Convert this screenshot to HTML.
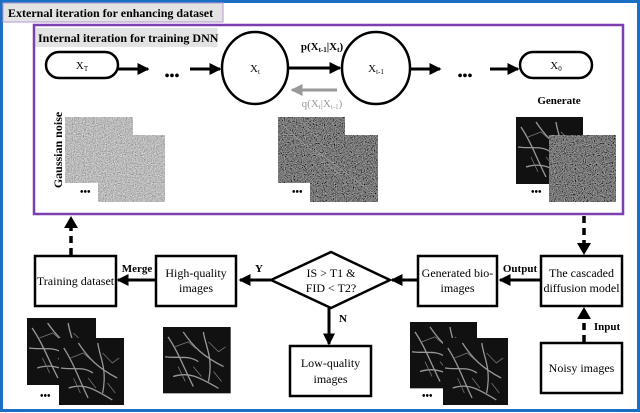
<!DOCTYPE html>
<html><head><style>
html,body{margin:0;padding:0;background:#fff}
svg{display:block}
text{font-family:"Liberation Serif",serif;fill:#000}
</style></head><body>
<svg width="640" height="413" viewBox="0 0 640 413" xmlns="http://www.w3.org/2000/svg">
<defs>
<filter id="nz" x="0" y="0" width="100%" height="100%"><feTurbulence type="fractalNoise" baseFrequency="0.9" numOctaves="1" seed="3"/><feColorMatrix type="matrix" values="0.33 0.33 0.33 0 0  0.33 0.33 0.33 0 0  0.33 0.33 0.33 0 0  0 0 0 0 1"/><feComponentTransfer><feFuncR type="linear" slope="1.6" intercept="-0.3"/><feFuncG type="linear" slope="1.6" intercept="-0.3"/><feFuncB type="linear" slope="1.6" intercept="-0.3"/></feComponentTransfer></filter>
<filter id="nz2" x="0" y="0" width="100%" height="100%"><feTurbulence type="fractalNoise" baseFrequency="0.9" numOctaves="1" seed="7"/><feColorMatrix type="matrix" values="0.33 0.33 0.33 0 0  0.33 0.33 0.33 0 0  0.33 0.33 0.33 0 0  0 0 0 0 1"/><feComponentTransfer><feFuncR type="linear" slope="1.5" intercept="-0.55"/><feFuncG type="linear" slope="1.5" intercept="-0.55"/><feFuncB type="linear" slope="1.5" intercept="-0.55"/></feComponentTransfer></filter>
<marker id="ah" markerWidth="4" markerHeight="4" refX="3.5" refY="2" orient="auto" markerUnits="strokeWidth"><path d="M0,0 L4,2 L0,4 z" fill="#000"/></marker>
<marker id="ahg" markerWidth="4" markerHeight="4" refX="3.5" refY="2" orient="auto" markerUnits="strokeWidth"><path d="M0,0 L4,2 L0,4 z" fill="#999"/></marker>
<g id="ves">
<rect width="67" height="67" fill="#111"/>
<g stroke="#bbb" stroke-width="1.3" fill="none" opacity="0.8">
<path d="M5,10 C15,25 20,40 30,60 M20,5 C30,20 40,30 60,40 M10,50 C25,45 35,50 55,62 M40,5 C42,20 50,30 45,55 M2,30 C15,32 25,28 35,35"/>
</g>
<g stroke="#777" stroke-width="0.8" fill="none">
<path d="M12,20 L25,15 L33,22 M45,15 L55,25 L62,20 M15,40 L22,55 M50,45 L58,55 M30,40 L38,50"/>
</g>
</g>
</defs>
<rect x="0" y="0" width="640" height="413" fill="#fff"/>
<rect x="1.5" y="1.5" width="637" height="409" fill="none" stroke="#1a6fc4" stroke-width="3"/>
<rect x="3" y="3" width="220" height="19" fill="#e3e3e3" stroke="#b49ad0" stroke-width="1"/>
<text x="8" y="17" font-size="12" font-weight="bold">External iteration for enhancing dataset</text>
<rect x="34" y="25" width="589" height="189" fill="none" stroke="#7b3fb0" stroke-width="2.5"/>
<rect x="35.5" y="28" width="182" height="19" fill="#e3e3e3"/>
<text x="38" y="42" font-size="12" font-weight="bold">Internal iteration for training DNN</text>

<rect x="46" y="52" width="72" height="26" rx="13" fill="#fff" stroke="#000" stroke-width="2.5"/>
<text x="82" y="69" font-size="11" text-anchor="middle">X<tspan font-size="7" dy="2">T</tspan></text>
<line x1="118" y1="69" x2="148" y2="69" stroke="#000" stroke-width="3" marker-end="url(#ah)"/>
<text x="172" y="80" font-size="14" font-weight="bold" text-anchor="middle">•••</text>
<line x1="190" y1="69" x2="220" y2="69" stroke="#000" stroke-width="3" marker-end="url(#ah)"/>
<ellipse cx="255" cy="68" rx="33" ry="36" fill="#fff" stroke="#000" stroke-width="2.5"/>
<text x="255" y="72" font-size="11" text-anchor="middle">X<tspan font-size="7" dy="2">t</tspan></text>
<line x1="289" y1="68" x2="340" y2="68" stroke="#000" stroke-width="3" marker-end="url(#ah)"/>
<text x="322" y="50" font-size="11" font-weight="bold" text-anchor="middle">p(X<tspan font-size="7" dy="2">t-1</tspan><tspan dy="-2">|X</tspan><tspan font-size="7" dy="2">t</tspan><tspan dy="-2">)</tspan></text>
<line x1="337" y1="90" x2="292" y2="90" stroke="#999" stroke-width="3" marker-end="url(#ahg)"/>
<text x="322" y="107" font-size="11" text-anchor="middle" style="fill:#999">q(X<tspan font-size="7" dy="2">t</tspan><tspan dy="-2">|X</tspan><tspan font-size="7" dy="2">t-1</tspan><tspan dy="-2">)</tspan></text>
<ellipse cx="376" cy="68" rx="34" ry="36" fill="#fff" stroke="#000" stroke-width="2.5"/>
<text x="376" y="72" font-size="11" text-anchor="middle">X<tspan font-size="7" dy="2">t-1</tspan></text>
<line x1="410" y1="69" x2="440" y2="69" stroke="#000" stroke-width="3" marker-end="url(#ah)"/>
<text x="465" y="80" font-size="14" font-weight="bold" text-anchor="middle">•••</text>
<line x1="490" y1="69" x2="518" y2="69" stroke="#000" stroke-width="3" marker-end="url(#ah)"/>
<rect x="520" y="52" width="72" height="26" rx="13" fill="#fff" stroke="#000" stroke-width="2.5"/>
<text x="556" y="69" font-size="11" text-anchor="middle">X<tspan font-size="7" dy="2">0</tspan></text>
<text x="559" y="104" font-size="11" font-weight="bold" text-anchor="middle">Generate</text>

<text transform="translate(62,150) rotate(-90)" font-size="12" font-weight="bold" text-anchor="middle">Gaussian noise</text>
<rect x="65" y="117" width="68" height="66" filter="url(#nz)"/>
<rect x="98" y="135" width="67" height="67" filter="url(#nz)"/>
<rect x="76" y="184" width="22" height="18" fill="#fff"/>
<text x="80" y="195" font-size="10" font-weight="bold">•••</text>
<rect x="278" y="117" width="67" height="66" filter="url(#nz2)"/>
<rect x="310" y="135" width="68" height="67" filter="url(#nz2)"/>
<g stroke="#aaa" stroke-width="0.8" opacity="0.6"><path d="M282,125 L340,175 M315,150 L375,195 M300,120 L320,140"/></g>
<rect x="290" y="184" width="20" height="18" fill="#fff"/>
<text x="292" y="195" font-size="10" font-weight="bold">•••</text>
<use href="#ves" transform="translate(516,117) scale(1.0,1.0)"/>
<rect x="549" y="135" width="67" height="67" filter="url(#nz2)"/>
<rect x="529" y="184" width="20" height="18" fill="#fff"/>
<text x="531" y="195" font-size="10" font-weight="bold">•••</text>

<line x1="71" y1="255" x2="71" y2="222" stroke="#000" stroke-width="3.5" stroke-dasharray="7,5" />
<path d="M64,228 L71,216 L78,228 z" fill="#000"/>
<line x1="584" y1="216" x2="584" y2="244" stroke="#000" stroke-width="3.5" stroke-dasharray="7,5"/>
<path d="M577,243 L584,255 L591,243 z" fill="#000"/>
<line x1="584" y1="342" x2="584" y2="318" stroke="#000" stroke-width="3.5" stroke-dasharray="7,5"/>
<path d="M577,319 L584,307 L591,319 z" fill="#000"/>

<rect x="35" y="256" width="81" height="50" fill="#fff" stroke="#000" stroke-width="2.5"/>
<text x="75.5" y="285" font-size="12" text-anchor="middle">Training dataset</text>
<text x="137" y="272" font-size="11" font-weight="bold" text-anchor="middle">Merge</text>
<line x1="155" y1="280" x2="118" y2="280" stroke="#000" stroke-width="3" marker-end="url(#ah)"/>
<rect x="156" y="256" width="80" height="50" fill="#fff" stroke="#000" stroke-width="2.5"/>
<text x="196" y="277" font-size="12" text-anchor="middle">High-quality</text>
<text x="196" y="292" font-size="12" text-anchor="middle">images</text>
<text x="259" y="272" font-size="11" font-weight="bold" text-anchor="middle">Y</text>
<line x1="271" y1="280" x2="240" y2="280" stroke="#000" stroke-width="3" marker-end="url(#ah)"/>
<path d="M271,280 L331,252 L390,280 L331,308 z" fill="#fff" stroke="#000" stroke-width="2.5"/>
<text x="331" y="277" font-size="12" text-anchor="middle">IS  &gt; T1 &amp;</text>
<text x="331" y="292" font-size="12" text-anchor="middle">FID &lt; T2?</text>
<line x1="329" y1="308" x2="329" y2="344" stroke="#000" stroke-width="3" marker-end="url(#ah)"/>
<text x="343" y="322" font-size="11" font-weight="bold" text-anchor="middle">N</text>
<rect x="290" y="346" width="81" height="50" fill="#fff" stroke="#000" stroke-width="2.5"/>
<text x="330.5" y="367" font-size="12" text-anchor="middle">Low-quality</text>
<text x="330.5" y="383" font-size="12" text-anchor="middle">images</text>
<line x1="418" y1="280" x2="392" y2="280" stroke="#000" stroke-width="3" marker-end="url(#ah)"/>
<rect x="418" y="256" width="79" height="50" fill="#fff" stroke="#000" stroke-width="2.5"/>
<text x="457.5" y="277" font-size="12" text-anchor="middle">Generated bio-</text>
<text x="457.5" y="292" font-size="12" text-anchor="middle">images</text>
<text x="520" y="272" font-size="11" font-weight="bold" text-anchor="middle">Output</text>
<line x1="541" y1="280" x2="500" y2="280" stroke="#000" stroke-width="3" marker-end="url(#ah)"/>
<rect x="541" y="256" width="81" height="50" fill="#fff" stroke="#000" stroke-width="2.5"/>
<text x="581.5" y="277" font-size="12" text-anchor="middle">The cascaded</text>
<text x="581.5" y="292" font-size="12" text-anchor="middle">diffusion model</text>
<text x="607" y="330" font-size="11" font-weight="bold" text-anchor="middle">Input</text>
<rect x="541" y="343" width="81" height="50" fill="#fff" stroke="#000" stroke-width="2.5"/>
<text x="581.5" y="372" font-size="12" text-anchor="middle">Noisy images</text>

<use href="#ves" transform="translate(27,318) scale(1.03,1.0)"/>
<use href="#ves" transform="translate(59,338) scale(0.97,1.0)"/>
<rect x="37" y="386" width="22" height="19" fill="#fff"/>
<text x="40" y="399" font-size="10" font-weight="bold">•••</text>
<use href="#ves" transform="translate(163,327) scale(1.01,0.99)"/>
<use href="#ves" transform="translate(410,322) scale(1.0,0.99)"/>
<use href="#ves" transform="translate(443,338) scale(0.97,1.0)"/>
<rect x="418" y="389" width="25" height="16" fill="#fff"/>
<text x="422" y="399" font-size="10" font-weight="bold">•••</text>
</svg>
</body></html>
